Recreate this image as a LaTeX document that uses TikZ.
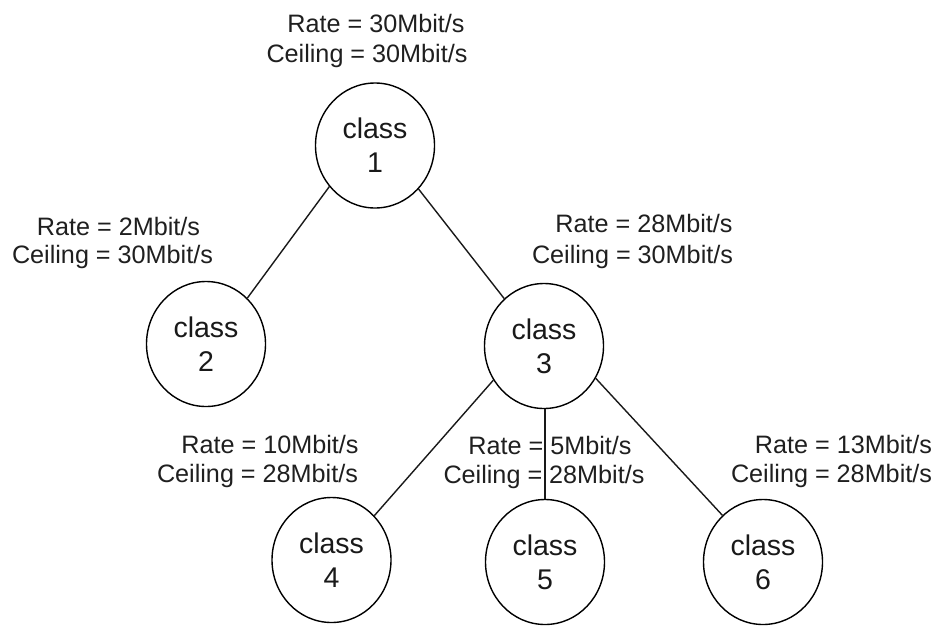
\documentclass[tikz,border=0pt]{standalone}
\usepackage{fontspec}
\setmainfont{Liberation Sans}
\usetikzlibrary{shapes.geometric}
\begin{document}
\begin{tikzpicture}[x=1pt,y=-1pt,
  cls/.style={draw, ellipse, line width=1.4pt, minimum width=119pt, minimum height=125pt,
    inner sep=0pt, align=center, font=\fontsize{28.5}{34}\selectfont, text=black!90},
  lbl/.style={anchor=base, inner sep=0pt, font=\fontsize{25.2}{29}\selectfont, text=black!88},
  edge/.style={line width=1.4pt, draw=black!90}]
\useasboundingbox (0,0) rectangle (936,627);
% classes
\node[cls] (c1) at (375,145.5) {class\\1};
\node[cls] (c2) at (206,344) {class\\2};
\node[cls] (c3) at (544,346) {class\\3};
\node[cls] (c4) at (331.5,560) {class\\4};
\node[cls] (c5) at (545,562) {class\\5};
\node[cls] (c6) at (763,562) {class\\6};
% connectors
\draw[edge] (c1.222.7) -- (c2.48.3);
\draw[edge] (c1.-45.3) -- (c3.130.5);
\draw[edge] (c3.214.7) -- (c4.46);
\draw[edge] (c3.south -| c5.north) -- (c5.north);
\draw[edge] (c3.-32) -- (c6.131);
% labels
\node[lbl] (r1) at (376,32) {Rate = 30Mbit/s};
\node[lbl] (g1) at (367,62) {Ceiling = 30Mbit/s};
\node[lbl] (r2) at (118.5,235) {Rate = 2Mbit/s};
\node[lbl] (g2) at (112.5,263) {Ceiling = 30Mbit/s};
\node[lbl] (r3) at (644,232) {Rate = 28Mbit/s};
\node[lbl] (g3) at (632.5,263) {Ceiling = 30Mbit/s};
\node[lbl] (r4) at (270,453) {Rate = 10Mbit/s};
\node[lbl] (g4) at (257.5,482) {Ceiling = 28Mbit/s};
\node[lbl] (r5) at (550,454) {Rate = 5Mbit/s};
\node[lbl] (g5) at (544,483) {Ceiling = 28Mbit/s};
\node[lbl] (r6) at (843.5,453) {Rate = 13Mbit/s};
\node[lbl] (g6) at (831.5,482) {Ceiling = 28Mbit/s};
\end{tikzpicture}
\end{document}
